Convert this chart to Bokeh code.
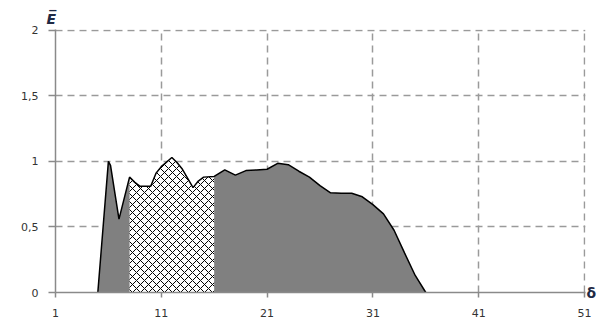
from bokeh.plotting import figure
from bokeh.models import Range1d, FixedTicker, LinearAxis
from bokeh.embed import file_html
from bokeh.resources import INLINE

# ---- data ----
delta = [5, 6, 6.2, 7, 8, 8.5, 9, 10, 10.5, 11, 12, 12.5, 13, 14, 14.5, 15, 16,
         17, 18, 19, 20, 21, 22, 23, 24, 25, 26, 27, 28, 29, 30, 31, 32, 33, 34, 35, 36]
e_bar = [0.0, 1.0, 0.97, 0.56, 0.88, 0.84, 0.81, 0.81, 0.91, 0.96, 1.03, 0.99, 0.94, 0.80, 0.85, 0.88, 0.885,
         0.935, 0.895, 0.93, 0.935, 0.94, 0.985, 0.975, 0.925, 0.88, 0.815, 0.76, 0.757, 0.757, 0.73,
         0.67, 0.60, 0.475, 0.30, 0.13, 0.0]
hatch_from = 8
hatch_to = 16
x_ticks = [1, 11, 21, 31, 41, 51]
y_ticks = [0, 0.5, 1, 1.5, 2]
y_tick_labels = ["0", "0,5", "1", "1,5", "2"]
y_title = "E\u0305"
x_title = "\u03b4"

hx = [d for d in delta if hatch_from <= d <= hatch_to]
hy = [e for d, e in zip(delta, e_bar) if hatch_from <= d <= hatch_to]

p = figure(width=600, height=321, output_backend="svg", toolbar_location=None,
           x_range=Range1d(1, 51.095), y_range=Range1d(0, 2.006),
           min_border_left=55, min_border_right=15, min_border_top=29, min_border_bottom=29)
p.outline_line_color = None
p.background_fill_color = "white"

# y title as a left-aligned title above the frame
p.title.text = y_title
p.title.align = "left"
p.title.offset = -9
p.title.standoff = 5
p.title.text_font = "DejaVu Sans"
p.title.text_font_style = "bold italic"
p.title.text_font_size = "14px"
p.title.text_color = "#1f2a44"

# grids
for g in (p.xgrid, p.ygrid):
    g.grid_line_color = "#9a9a9a"
    g.grid_line_dash = "7 5"
    g.grid_line_width = 1.5
p.xaxis.ticker = FixedTicker(ticks=x_ticks)
p.yaxis.ticker = FixedTicker(ticks=y_ticks)
p.yaxis.major_label_overrides = {t: l for t, l in zip(y_ticks, y_tick_labels)}

for ax in (p.xaxis, p.yaxis):
    ax.axis_line_color = "#8a8a8a"
    ax.axis_line_width = 1.5
    ax.major_tick_line_color = "#8a8a8a"
    ax.major_tick_line_width = 1.5
    ax.major_tick_in = 0
    ax.minor_tick_line_color = None
    ax.major_label_text_font = "DejaVu Sans"
    ax.major_label_text_font_size = "11px"
    ax.major_label_text_color = "#333333"
p.xaxis.major_tick_out = 5
p.xaxis.major_label_standoff = 11
p.yaxis.major_tick_out = 7
p.yaxis.major_label_standoff = 10

# x title as a label on a bare right-hand axis at y = 0
ax_d = LinearAxis(ticker=FixedTicker(ticks=[0]), major_label_overrides={0: x_title},
                  axis_line_color=None, major_tick_line_color=None, minor_tick_line_color=None,
                  major_tick_out=0, major_tick_in=0, major_label_standoff=1,
                  major_label_text_font="DejaVu Sans", major_label_text_font_style="bold",
                  major_label_text_font_size="14px", major_label_text_color="#1f2a44")
p.add_layout(ax_d, "right")

# areas
p.varea(x=delta, y1=[0] * len(delta), y2=e_bar, fill_color="#808080", fill_alpha=1)
p.varea(x=hx, y1=[0] * len(hx), y2=hy, fill_color="white", fill_alpha=1,
        hatch_pattern="diagonal_cross", hatch_color="black", hatch_scale=8, hatch_weight=1)
p.line(delta, e_bar, line_color="black", line_width=1.5)

open("out.html", "w").write(file_html(p, INLINE))
